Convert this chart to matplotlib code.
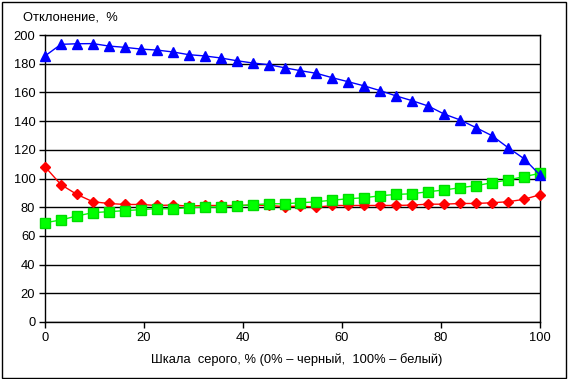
import numpy as np
import matplotlib
matplotlib.use("Agg")
import matplotlib.pyplot as plt
from matplotlib.patches import Rectangle

x_vals = [i * 100 / 31 for i in range(32)]

blue = [185.4, 193.5, 193.9, 194.0, 192.3, 191.4, 190.2, 189.5, 188.2, 186.3,
        185.4, 184.0, 182.1, 180.5, 179.3, 177.2, 175.1, 173.3, 170.2, 167.4,
        164.5, 161.2, 157.5, 154.2, 150.5, 144.9, 140.8, 135.4, 129.8, 121.5,
        113.8, 102.4]
red = [108.2, 95.7, 88.9, 83.8, 82.6, 81.9, 81.9, 81.2, 81.5, 80.8,
       81.2, 81.2, 81.2, 81.5, 81.2, 80.4, 80.8, 80.0, 81.2, 81.2,
       81.2, 81.2, 81.2, 81.5, 82.1, 82.1, 82.6, 82.6, 83.1, 83.8,
       85.5, 88.7]
green = [69.2, 71.1, 73.9, 76.2, 76.9, 77.6, 78.3, 79.0, 78.8, 79.7,
         80.1, 80.1, 81.0, 81.7, 82.4, 82.4, 83.1, 83.8, 84.9, 85.9,
         86.6, 88.0, 88.9, 89.4, 90.8, 92.0, 93.6, 95.0, 97.1, 99.0,
         101.3, 103.6]

x_ticks = [0, 20, 40, 60, 80, 100]
y_ticks = [0, 20, 40, 60, 80, 100, 120, 140, 160, 180, 200]
title = "Отклонение,  %"
xlabel = "Шкала  серого, % (0% – черный,  100% – белый)"

plt.rcParams['font.family'] = ['Liberation Sans', 'DejaVu Sans']

W, H = 568, 379
fig = plt.figure(figsize=(W / 100, H / 100), dpi=100)
ax = fig.add_axes([45 / W, 1 - 322 / H, (540 - 45) / W, (322 - 35) / H])

ax.plot(x_vals, red, color='#FF0000', lw=1, marker='D', ms=5, mec='#FF0000', mfc='#FF0000', zorder=3, clip_on=False)
ax.plot(x_vals, green, color='#00FF00', lw=1, marker='s', ms=6.5, mec='#00DD00', mfc='#00FF00', zorder=4, clip_on=False)
ax.plot(x_vals, blue, color='#0000FF', lw=1, marker='^', ms=7, mec='#0000FF', mfc='#0000FF', zorder=5, clip_on=False)

ax.set_xlim(0, 100)
ax.set_ylim(0, 200)
ax.set_xticks(x_ticks)
ax.set_yticks(y_ticks)
ax.tick_params(direction='out', length=4, width=1, labelsize=9.3, colors='black', pad=3)
ax.grid(axis='y', color='black', lw=1)
ax.set_axisbelow(True)
for s in ['left', 'bottom', 'top', 'right']:
    ax.spines[s].set_color('black')
    ax.spines[s].set_linewidth(1)

fig.text(23 / W, 1 - 18 / H, title, fontsize=9.3, ha='left', va='center')
fig.text(297 / W, 1 - 360 / H, xlabel, fontsize=9.3, ha='center', va='center')

fig.patches.append(Rectangle((1.5 / W, 1.5 / H), (566 - 1.5) / W, (377.5 - 1.5) / H,
                             transform=fig.transFigure, fill=False, ec='black', lw=1))

fig.savefig('out.png', dpi=100)
